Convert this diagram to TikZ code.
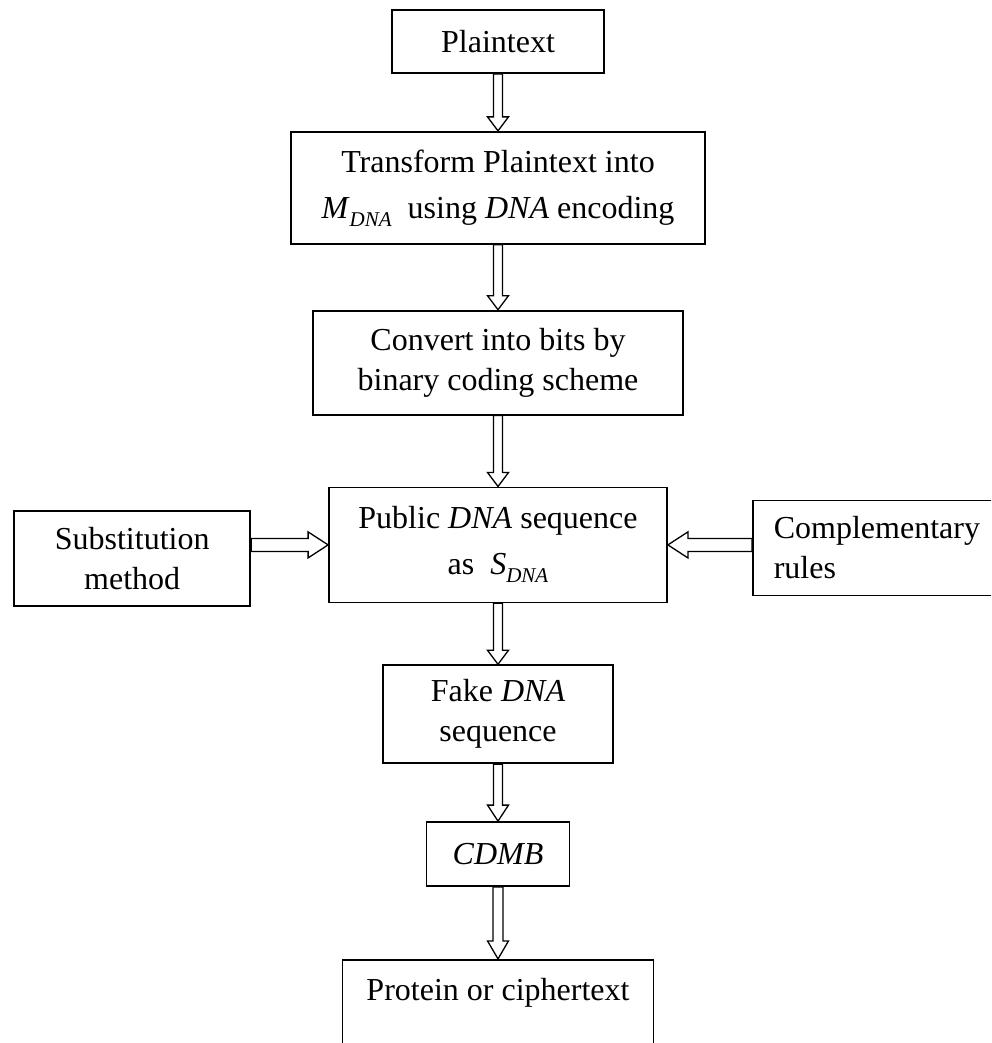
\documentclass[tikz,border=0pt]{standalone}
\usepackage{amsmath}
\usepackage{fontspec}
\setmainfont{Liberation Serif}
\usetikzlibrary{positioning,calc}

% hollow block arrow: start, tip, shaft half width, head half width, head length
\newcommand{\blockarr}[5]{%
  \draw[blockline] ($(#1)!#3!90:(#2)$)
    -- ($(#2)!#5!(#1)!#3!-90:(#1)$)
    -- ($(#2)!#5!(#1)!#4!-90:(#1)$)
    -- (#2)
    -- ($(#2)!#5!(#1)!#4!90:(#1)$)
    -- ($(#2)!#5!(#1)!#3!90:(#1)$)
    -- ($(#1)!#3!-90:(#2)$) -- cycle;
}
% italic symbol with a low DNA subscript
\newcommand{\dnasym}[1]{\textit{#1}\raisebox{-4pt}{\fontsize{10.5pt}{10.5pt}\selectfont\textit{DNA}}}

\begin{document}
\begin{tikzpicture}[
    node distance=30pt and 40pt,
    every node/.style={font=\fontsize{16pt}{20pt}\selectfont},
    stepbox/.style={
      rectangle, draw=black, line width=0.9pt, align=center, inner sep=2pt
    },
    blockline/.style={draw=black, line width=0.65pt, line join=miter}
  ]
    \useasboundingbox (0,0) rectangle (495.5pt,-521.5pt);
    \clip (0,0) rectangle (495.5pt,-521.5pt);

    % Main chain
    \node[stepbox, minimum width=106pt, minimum height=31.5pt] (plain) at (249pt,-20.75pt) {Plaintext};
    \node[stepbox, minimum width=207pt, minimum height=56pt, below=28.5pt of plain] (trans)
      {Transform Plaintext into\\[3pt]\dnasym{M}\enspace using \textit{DNA} encoding};
    \node[stepbox, minimum width=185pt, minimum height=52pt, below=32.5pt of trans] (conv)
      {Convert into bits by\\binary coding scheme};
    \node[stepbox, minimum width=169pt, minimum height=57.5pt, below=35.5pt of conv] (pub)
      {Public \textit{DNA} sequence\\[3pt]as\enspace\dnasym{S}};
    \node[stepbox, minimum width=115pt, minimum height=49pt, below=30.5pt of pub] (fake)
      {Fake \textit{DNA}\\sequence};
    \node[stepbox, minimum width=71.5pt, minimum height=32pt, below=28.5pt of fake] (cdmb) {\textit{CDMB}};
    \node[stepbox, minimum width=155.5pt, minimum height=70pt, below=36pt of cdmb,
      label={[anchor=north, yshift=-6pt]north:Protein or ciphertext}] (prot) {};

    % Side inputs
    \node[stepbox, minimum width=118pt, minimum height=47.5pt, left=38.5pt of pub, yshift=-6.75pt] (sub)
      {Substitution\\method};
    \node[stepbox, text width=129pt, align=left, inner xsep=10.5pt, minimum height=47.5pt,
      right=42pt of pub, yshift=-1.5pt] (comp) {Complementary\\rules};

    % Arrows down the chain
    \blockarr{plain.south}{trans.north}{2.25pt}{5.25pt}{7pt}
    \blockarr{trans.south}{conv.north}{2.25pt}{5.25pt}{7pt}
    \blockarr{conv.south}{pub.north}{2.25pt}{5.25pt}{7pt}
    \blockarr{pub.south}{fake.north}{2.25pt}{5.25pt}{7pt}
    \blockarr{fake.south}{cdmb.north}{2.25pt}{5.25pt}{8pt}
    \blockarr{cdmb.south}{prot.north}{2.5pt}{5.25pt}{9pt}

    % Arrows from the sides
    \coordinate (subout) at (pub.west -| sub.east);
    \coordinate (compout) at (pub.east -| comp.west);
    \blockarr{subout}{pub.west}{3.25pt}{6.5pt}{10pt}
    \blockarr{compout}{pub.east}{3.25pt}{6.5pt}{10pt}

\end{tikzpicture}
\end{document}
